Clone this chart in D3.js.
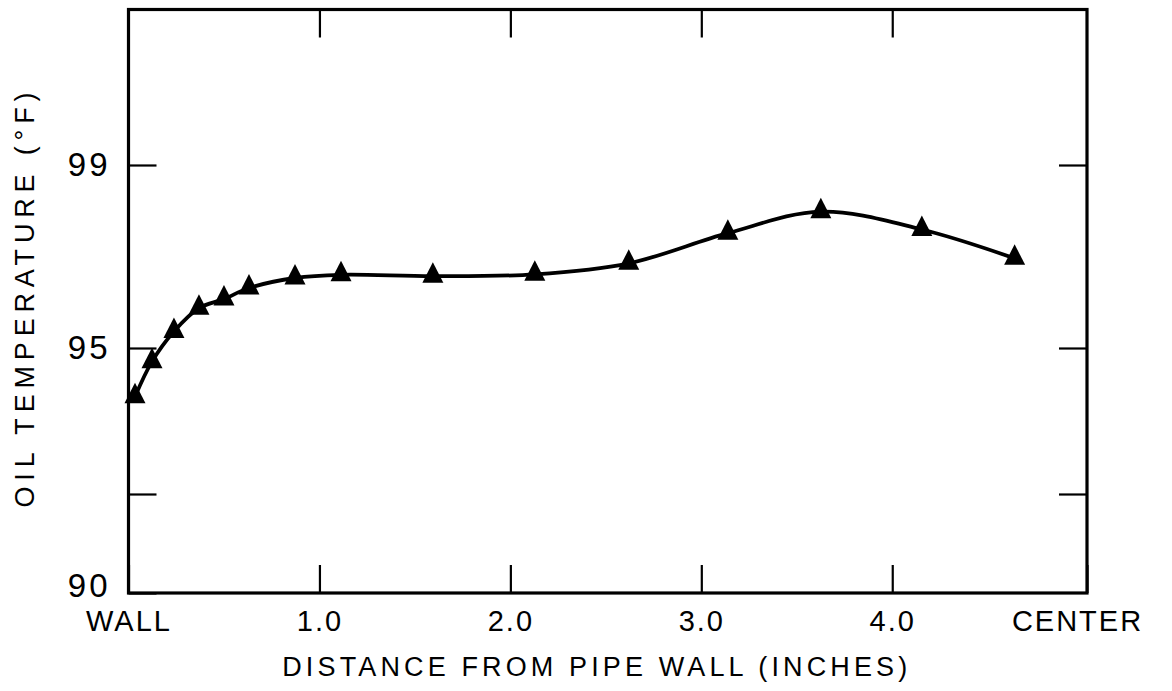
<!DOCTYPE html>
<html>
<head>
<meta charset="utf-8">
<script src="https://cdn.jsdelivr.net/npm/d3@7"></script>
<style>
  body { margin: 0; background: #fff; }
  text { font-family: "Liberation Sans", Arial, sans-serif; fill: #000; }
</style>
</head>
<body>
<svg width="1172" height="691"></svg>
<script>
// distance from pipe wall (inches) and oil temperature (F)
var distance = [0.034, 0.123, 0.238, 0.369, 0.500, 0.631, 0.872, 1.113, 1.594, 2.128, 2.620, 3.139, 3.626, 4.155, 4.641];
var temperature = [94.00, 94.72, 95.36, 95.87, 96.07, 96.31, 96.53, 96.60, 96.57, 96.61, 96.85, 97.51, 97.98, 97.59, 96.96];

var xTicks = [0, 1, 2, 3, 4, 5.02];
var xTickLabels = ["WALL", "1.0", "2.0", "3.0", "4.0", "CENTER"];
var yTicks = [90, 92, 95, 99];
var yTickLabels = ["90", "", "95", "99"];

var data = distance.map(function(d, i) { return {x: d, y: temperature[i]}; });

var svg = d3.select("svg"),
    margin = {top: 9.5, right: 85, bottom: 98, left: 128.5},
    width = +svg.attr("width") - margin.left - margin.right,
    height = +svg.attr("height") - margin.top - margin.bottom,
    g = svg.append("g").attr("transform", "translate(" + margin.left + "," + margin.top + ")");

var x = d3.scaleLinear()
    .domain([0, 5.02])
    .range([0, width]);

// the printed axis is not evenly spaced, so follow its tick positions piecewise
var y = d3.scaleLinear()
    .domain([90, 92, 95, 99, 102.4])
    .range([height, height - 99, height - 245, height - 428, 0]);

var tickLen = 28;

// bottom axis with labels
var xAxis = g.append("g")
    .attr("class", "axis axis--x")
    .attr("transform", "translate(0," + height + ")")
    .call(d3.axisBottom(x)
        .tickValues(xTicks)
        .tickSizeInner(-tickLen)
        .tickSizeOuter(0)
        .tickPadding(17)
        .tickFormat(function(d, i) { return xTickLabels[i]; }));
xAxis.selectAll("text")
    .style("font-size", "29px")
    .style("letter-spacing", "2px")
    .attr("dx", function(d, i) { return i == xTicks.length - 1 ? -10 : 0; });

// left axis with labels
var yAxis = g.append("g")
    .attr("class", "axis axis--y")
    .call(d3.axisLeft(y)
        .tickValues(yTicks)
        .tickSizeInner(-tickLen)
        .tickSizeOuter(0)
        .tickPadding(18)
        .tickFormat(function(d, i) { return yTickLabels[i]; }));
yAxis.selectAll("text")
    .style("font-size", "33px")
    .style("letter-spacing", "3px")
    .attr("dy", function(d) { return d == 90 ? "0.12em" : "0.32em"; });

// mirrored ticks on top and right
g.append("g")
    .attr("class", "axis axis--top")
    .call(d3.axisTop(x)
        .tickValues(xTicks.slice(1, -1))
        .tickSizeInner(-tickLen)
        .tickSizeOuter(0)
        .tickFormat(""));

g.append("g")
    .attr("class", "axis axis--right")
    .attr("transform", "translate(" + width + ",0)")
    .call(d3.axisRight(y)
        .tickValues(yTicks.slice(1))
        .tickSizeInner(-tickLen)
        .tickSizeOuter(0)
        .tickFormat(""));

g.selectAll(".axis .domain").remove();
g.selectAll(".axis line").attr("stroke", "#000").attr("stroke-width", 2.2);

// frame
g.append("rect")
    .attr("width", width)
    .attr("height", height)
    .attr("fill", "none")
    .attr("stroke", "#000")
    .attr("stroke-width", 3.2);

// axis titles
g.append("text")
    .attr("x", width / 2 - 13)
    .attr("y", height + 83)
    .attr("text-anchor", "middle")
    .attr("textLength", 625)
    .attr("lengthAdjust", "spacing")
    .style("font-size", "27px")
    .text("DISTANCE FROM PIPE WALL (INCHES)");

g.append("text")
    .attr("transform", "translate(" + (-95) + "," + (300 - margin.top) + ") rotate(-90)")
    .attr("text-anchor", "middle")
    .attr("textLength", 415)
    .attr("lengthAdjust", "spacing")
    .style("font-size", "27px")
    .text("OIL TEMPERATURE (\u00B0F)");

// fitted curve
var lineFunction = d3.line()
    .x(function(d) { return x(d.x); })
    .y(function(d) { return y(d.y); })
    .curve(d3.curveCatmullRom.alpha(0.5));

g.append("path")
    .datum(data)
    .attr("fill", "none")
    .attr("stroke", "#000")
    .attr("stroke-width", 3.8)
    .attr("d", lineFunction);

// triangle markers, apex up, point sitting a little above the base
var tri = {
    draw: function(context, size) {
        context.moveTo(0, -14);
        context.lineTo(10.5, 6.5);
        context.lineTo(-10.5, 6.5);
        context.closePath();
    }
};

g.selectAll(".dot")
    .data(data)
  .enter().append("path")
    .attr("class", "dot")
    .attr("transform", function(d) { return "translate(" + x(d.x) + "," + y(d.y) + ")"; })
    .attr("d", d3.symbol().type(tri))
    .style("fill", "#000");
</script>
</body>
</html>
